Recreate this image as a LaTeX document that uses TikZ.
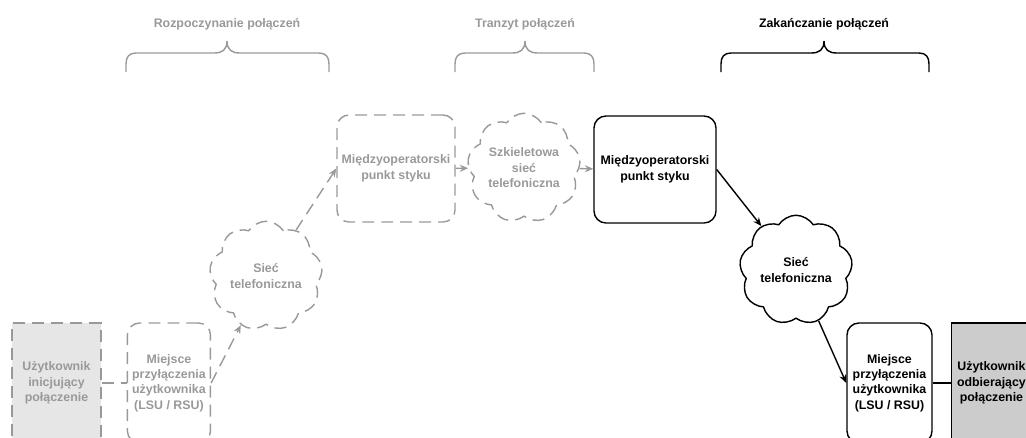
\documentclass[tikz,border=0pt]{standalone}
\usepackage{fontspec}
\setmainfont{Liberation Sans}
\usepackage{xcolor}
\usetikzlibrary{positioning,shapes.symbols,arrows.meta}

\definecolor{fadegray}{RGB}{153,153,153}
\definecolor{fadefill}{RGB}{230,230,230}
\definecolor{userfill}{RGB}{204,204,204}

\begin{document}
\begin{tikzpicture}
[
x=0.025cm, y=-0.025cm,
box-a/.style={rectangle, draw, line width=1pt, rounded corners=0.3cm, align=center, font=\fontsize{8.8}{11}\selectfont\bfseries},
box-b/.style={box-a, draw=fadegray, text=fadegray, dash pattern=on 8.5pt off 5pt},
user-a/.style={box-a, rounded corners=0pt, fill=userfill},
user-b/.style={box-b, rounded corners=0pt, fill=fadefill},
cloud-a/.style={cloud, draw, line width=1pt, cloud puffs=9, cloud puff arc=115, aspect=1.05, inner sep=0pt, minimum width=2.75cm, minimum height=2.6cm, align=center, font=\fontsize{8.8}{11}\selectfont\bfseries},
cloud-b/.style={cloud-a, draw=fadegray, text=fadegray, dash pattern=on 8.5pt off 5pt},
link-a/.style={line width=1pt, -{Stealth[length=6pt, width=5pt]}},
link-b/.style={link-a, draw=fadegray, dash pattern=on 8.5pt off 5pt},
brace-a/.style={line width=1pt},
brace-b/.style={brace-a, draw=fadegray},
title-a/.style={font=\fontsize{8.8}{11}\selectfont\bfseries},
title-b/.style={title-a, text=fadegray}
]

\useasboundingbox (0,0) rectangle (1026,437);
\clip (0,0) rectangle (1026,437);

% originating side
\node (user-1)  [user-b, minimum width=2.225cm, minimum height=3cm] at (56.5,383) {Użytkownik\\inicjujący\\połączenie};
\node (lsu-1)   [box-b, minimum width=2.075cm, minimum height=3cm, right = 0.625cm of user-1] {Miejsce\\przyłączenia\\użytkownika\\(LSU / RSU)};
\node (cloud-1) [cloud-b] at (266,276) {Sieć\\telefoniczna};
\node (mop-1)   [box-b, minimum width=2.95cm, minimum height=2.675cm] at (396,168.5) {Międzyoperatorski\\punkt styku};

% transit
\node (cloud-2) [cloud-b] at (524,168) {Szkieletowa\\sieć\\telefoniczna};

% terminating side
\node (mop-2)   [box-a, minimum width=3.05cm, minimum height=2.675cm] at (655,169.5) {Międzyoperatorski\\punkt styku};
\node (cloud-3) [cloud-a] at (796,270) {Sieć\\telefoniczna};
\node (lsu-2)   [box-a, minimum width=2.125cm, minimum height=3cm] at (889.5,383) {Miejsce\\przyłączenia\\użytkownika\\(LSU / RSU)};
\node (user-2)  [user-a, minimum width=2cm, minimum height=3cm, right = 0.45cm of lsu-2] {Użytkownik\\odbierający\\połączenie};

\draw [draw=fadegray, line width=1pt, dash pattern=on 8.5pt off 5pt] (user-1)--(lsu-1);
\draw [link-b] (lsu-1.east)--(cloud-1);
\draw [link-b] (cloud-1)--(mop-1.west);
\draw [link-b] (mop-1)--(cloud-2);
\draw [link-a, draw=fadegray] (cloud-2)--(mop-2);
\draw [link-a] (mop-2.east)--(cloud-3);
\draw [link-a] (cloud-3)--(lsu-2.west);
\draw [line width=1pt] (lsu-2)--(user-2);

% phases
\node (title-1) [title-b] at (227,24) {Rozpoczynanie połączeń};
\node (title-2) [title-b] at (525,24) {Tranzyt połączeń};
\node (title-3) [title-a] at (824,24) {Zakańczanie połączeń};
\draw [brace-b] (126,72)--(126,64) .. controls (126,57) and (129,53) .. (136,53)--(214,53) .. controls (222,53) and (227,50) .. (227,41) .. controls (227,50) and (232,53) .. (240,53)--(319,53) .. controls (326,53) and (329,57) .. (329,64)--(329,72);
\draw [brace-b] (455,72)--(455,64) .. controls (455,57) and (458,53) .. (465,53)--(512,53) .. controls (520,53) and (525,50) .. (525,41) .. controls (525,50) and (530,53) .. (538,53)--(584,53) .. controls (591,53) and (594,57) .. (594,64)--(594,72);
\draw [brace-a] (721,72)--(721,64) .. controls (721,57) and (724,53) .. (731,53)--(811,53) .. controls (819,53) and (824,50) .. (824,41) .. controls (824,50) and (829,53) .. (837,53)--(919,53) .. controls (926,53) and (929,57) .. (929,64)--(929,72);

\end{tikzpicture}
\end{document}
